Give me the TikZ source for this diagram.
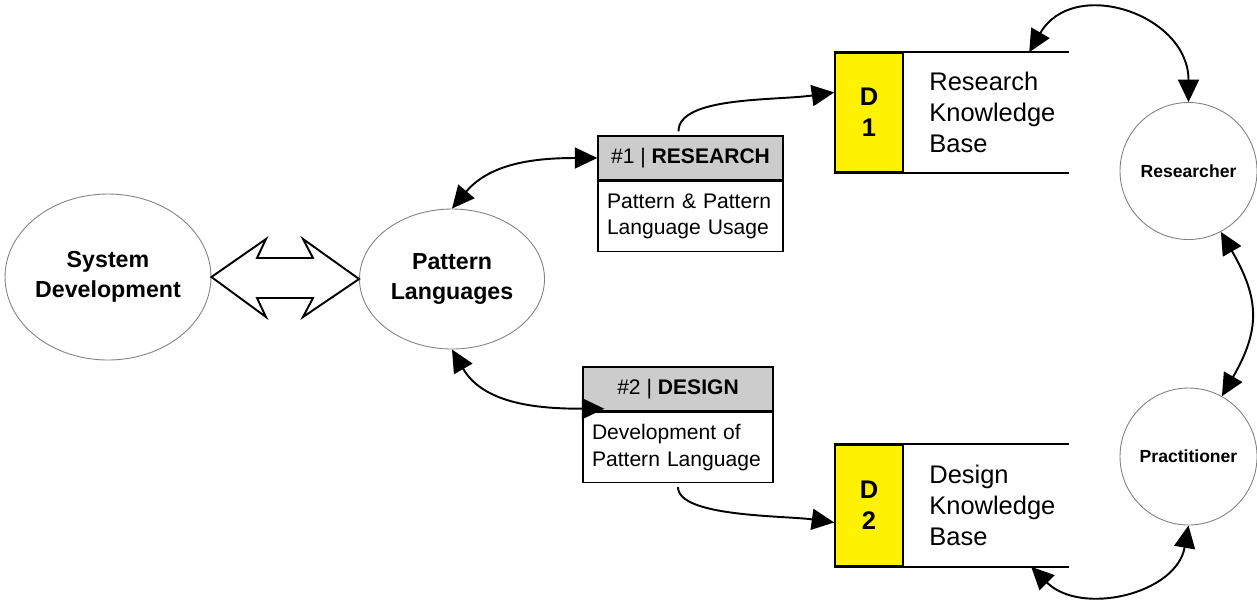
\documentclass[tikz,border=0pt]{standalone}
\usepackage{fontspec}
\setmainfont{Liberation Sans}
\usetikzlibrary{shapes.geometric,arrows.meta,calc}
\newcommand{\headcolor}{black!20!white}
\newcommand{\storecolor}{yellow}
\newcommand{\rimcolor}{black!50!white}

\begin{document}
\begin{tikzpicture}[x=0.02cm, y=-0.02cm, >={Triangle[length=0.45cm,width=0.42cm]},
    bubble/.style={ellipse, draw=\rimcolor, line width=0.5pt, inner sep=0pt, align=center,
        font=\fontsize{13.2}{17}\selectfont\bfseries},
    actor/.style={circle, draw=\rimcolor, line width=0.5pt, inner sep=0pt, minimum size=137*0.02cm,
        font=\fontsize{10}{12}\selectfont\bfseries},
    head/.style={draw, fill=\headcolor, line width=0.8pt, minimum height=44*0.02cm, inner sep=0pt,
        font=\fontsize{12}{14}\selectfont},
    body/.style={draw, fill=white, line width=0.8pt, minimum height=70*0.02cm, inner ysep=0pt,
        inner xsep=9*0.02cm, align=left, font=\fontsize{12}{15.3}\selectfont},
    store/.style={draw, fill=\storecolor, line width=0.9pt, minimum width=68*0.02cm, inner sep=0pt,
        align=center, font=\fontsize{14.5}{17.6}\selectfont\bfseries},
    kbtext/.style={anchor=west, inner sep=0pt, align=left, font=\fontsize{14.5}{17.6}\selectfont},
    flow/.style={line width=1.1pt, ->}]
    \useasboundingbox (0,0) rectangle (1257,600);

    % ellipses
    \node[bubble, minimum width=200*0.02cm, minimum height=166*0.02cm] (sd) at (108,277) {System\\Development};
    \node[bubble, minimum width=185*0.02cm, minimum height=140*0.02cm] (pl) at (452,279) {Pattern\\Languages};

    % block double arrow
    \draw[line width=1.1pt, fill=white] (sd.east) -- (266,239) -- (257,258) -- (313,258) -- (303,239)
        -- (pl.west) -- (303,317) -- (313,298) -- (257,298) -- (266,317) -- cycle;

    % processes
    \node[head, minimum width=185*0.02cm] (h1) at (690.5,158) {\#1 | \textbf{RESEARCH}};
    \node[body, text width=167*0.02cm, anchor=north] (b1) at (h1.south) {Pattern \& Pattern\\Language Usage};
    \node[head, minimum width=190*0.02cm] (h2) at (678,389) {\#2 | \textbf{DESIGN}};
    \node[body, text width=172*0.02cm, anchor=north] (b2) at (h2.south) {Development of\\Pattern Language};

    % data stores
    \node[store, minimum height=119*0.02cm] (d1) at (869,112.5) {D\\1};
    \draw[line width=0.9pt] (d1.north west) -- ++(235,0);
    \draw[line width=0.9pt] (d1.south west) -- ++(235,0);
    \node[kbtext] (d1t) at (929,112) {Research\\Knowledge\\Base};
    \node[store, minimum height=121*0.02cm] (d2) at (869,505.5) {D\\2};
    \draw[line width=0.9pt] (d2.north west) -- ++(235,0);
    \draw[line width=0.9pt] (d2.south west) -- ++(235,0);
    \node[kbtext] (d2t) at (929,505) {Design\\Knowledge\\Base};

    % actors
    \node[actor] (res) at (1188.5,171) {Researcher};
    \node[actor] (prac) at (1188.5,456.5) {Practitioner};

    \coordinate (h2in) at ($(h2.south west)+(22,-3)$);
    \coordinate (d1top) at ($(d1.north west)+(195,0)$);
    \coordinate (d2bot) at ($(d2.south west)+(197,0)$);

    % flows
    \draw[flow, <->] (pl.north) to[out=50, in=180] (h1.west);
    \draw[flow] ($(h1.north)+(-12,-4)$) to[out=90, in=188, out distance=0.7cm, in distance=1.2cm] (d1.150);
    \draw[flow, <->] (pl.south) to[out=-60, in=180] (h2in);
    \draw[flow] ($(b2.south)+(0,4)$) to[out=-90, in=172, out distance=0.6cm, in distance=1.0cm] (d2.206);
    \draw[flow, <->] (d1top) to[out=60, in=90, looseness=1.35] (res.north);
    \draw[flow, <->] (res.-62) to[out=-60, in=60, looseness=1.2] (prac.61);
    \draw[flow, <->] (prac.south) to[out=-100, in=-45, looseness=1.1] (d2bot);
\end{tikzpicture}
\end{document}
